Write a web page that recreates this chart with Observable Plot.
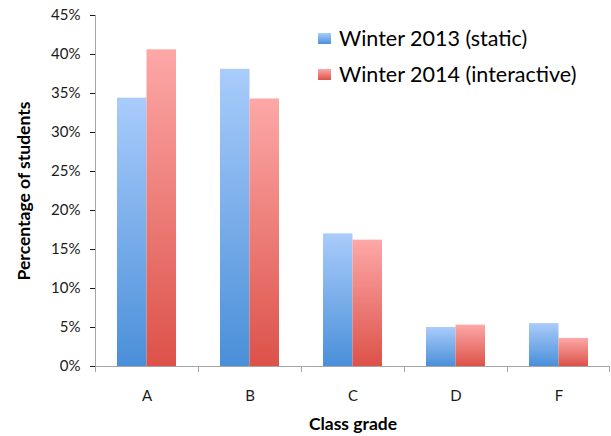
<!DOCTYPE html>
<html><head><meta charset="utf-8">
<script src="https://cdn.jsdelivr.net/npm/d3@7"></script>
<script src="https://cdn.jsdelivr.net/npm/@observablehq/plot@0.6"></script>
<style>
body{margin:0;background:#fff}
g[aria-label="y-axis tick"], g[aria-label="fx-axis tick"]{stroke:#a6a6a6}
g[aria-label="y-axis label"] text, g[aria-label="fx-axis label"] text{font-weight:bold;font-size:17.5px;fill:#000}
</style>
</head><body><div id="chart"></div>
<script>
const grades = ["A", "B", "C", "D", "F"];
const series = ["Winter 2013 (static)", "Winter 2014 (interactive)"];
const w2013 = [34.4, 38.1, 17.0, 5.0, 5.5];
const w2014 = [40.6, 34.3, 16.2, 5.3, 3.6];
const yTicks = [0, 5, 10, 15, 20, 25, 30, 35, 40, 45];
const gradIds = ["gradBlue", "gradRed"];
const gradStops = [["#a9ccfb", "#4a8fd9"], ["#fda8a7", "#dc5249"]];

const data = grades.flatMap((g, i) => [
  {grade: g, series: series[0], value: w2013[i]},
  {grade: g, series: series[1], value: w2014[i]}
]);

const plot = Plot.plot({
  width: 611, height: 436,
  marginLeft: 95, marginRight: 1, marginTop: 15, marginBottom: 70,
  style: {fontFamily: "Lato, 'Open Sans', sans-serif", fontSize: "15px", color: "#1a1a1a", background: "#fff"},
  fx: {domain: grades, padding: 0, label: "Class grade", labelAnchor: "center", labelOffset: 63, tickSize: 0, tickPadding: 24},
  x: {domain: series, axis: null, paddingInner: 0, paddingOuter: 0.746, round: false},
  y: {domain: [0, 45], ticks: yTicks, tickFormat: d => d + "%", tickSize: 5, tickPadding: 10,
      label: "Percentage of students", labelAnchor: "center", labelArrow: "none", labelOffset: 78},
  color: {domain: series, range: gradIds.map(id => `url(#${id})`)},
  marks: [
    Plot.barY(data, {fx: "grade", x: "series", y: "value", fill: "series", inset: 0})
  ]
});

document.getElementById("chart").appendChild(plot);

const svg = d3.select(plot);
const defs = svg.insert("defs", ":first-child");
gradIds.forEach((id, i) => {
  const lg = defs.append("linearGradient").attr("id", id)
    .attr("x1", 0).attr("y1", 0).attr("x2", 0).attr("y2", 1);
  lg.append("stop").attr("offset", "0%").attr("stop-color", gradStops[i][0]);
  lg.append("stop").attr("offset", "100%").attr("stop-color", gradStops[i][1]);
});

const fx = plot.scale("fx");
const y = plot.scale("y");
const y0 = y.apply(0), yTop = y.apply(45);
const [xl, xr] = fx.range;
const axes = svg.append("g").attr("stroke", "#a6a6a6").attr("stroke-width", 1);
axes.append("line").attr("x1", xl + 0.5).attr("x2", xl + 0.5).attr("y1", yTop).attr("y2", y0);
axes.append("line").attr("x1", xl).attr("x2", xr).attr("y1", y0 + 0.5).attr("y2", y0 + 0.5);
const edges = grades.map(g => fx.apply(g)).concat([fx.apply(grades[grades.length - 1]) + fx.bandwidth]);
edges.forEach(e => {
  const ex = Math.min(Math.round(e) + 0.5, xr - 0.5);
  axes.append("line").attr("x1", ex).attr("x2", ex).attr("y1", y0).attr("y2", y0 + 6);
});

const legend = svg.append("g").attr("font-size", 21.5).attr("text-anchor", "start")
  .attr("font-family", "Lato, 'Open Sans', sans-serif");
series.forEach((s, i) => {
  const gy = 33 + i * 36;
  legend.append("rect").attr("x", 318).attr("y", gy).attr("width", 13).attr("height", 11)
    .attr("fill", `url(#${gradIds[i]})`);
  legend.append("text").attr("x", 339).attr("y", gy + 5.5).attr("dy", "0.35em")
    .attr("fill", "#000").text(s);
});
</script>
</body></html>
